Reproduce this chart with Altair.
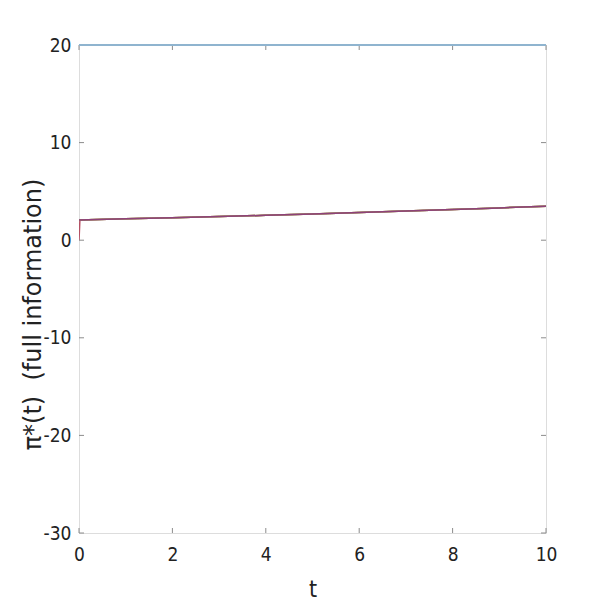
import altair as alt
import pandas as pd

t_vals = [0, 1, 2, 3, 4, 5, 6, 7, 8, 9, 10]
base_vals = [2.08, 2.19, 2.30, 2.42, 2.55, 2.69, 2.84, 2.99, 3.14, 3.31, 3.48]
blue_vals = [20, 20, 20, 20, 20, 20, 20, 20, 20, 20, 20]
red_t = [0, 0.02, 1, 2, 3, 4, 5, 6, 7, 8, 9, 10]
red_vals = [0.0, 2.08, 2.19, 2.30, 2.42, 2.55, 2.69, 2.84, 2.99, 3.14, 3.31, 3.48]
series_names = ["s1", "s2", "s3", "s4", "s5", "s6", "s7"]
series_colors = ["#8fb4cf", "#D95319", "#EDB120", "#7E2F8E", "#77AC30", "#4DBEEE", "#A2142F"]
x_ticks = [0, 2, 4, 6, 8, 10]
y_ticks = [-30, -20, -10, 0, 10, 20]

rows = []
for name in ["s7", "s3", "s5", "s6", "s2", "s4"]:
    tt = red_t if name == "s7" else t_vals
    vv = red_vals if name == "s7" else base_vals
    for t, v in zip(tt, vv):
        rows.append({"t": t, "v": v, "s": name})
df = pd.DataFrame(rows)
df_blue = pd.DataFrame({"t": t_vals, "v": blue_vals, "s": ["s1"] * len(t_vals)})

W, H = 467, 488
FONT = "DejaVu Sans Condensed"
AX = "#8c8c8c"

xs = alt.Scale(domain=[0, 10], nice=False)
ys = alt.Scale(domain=[-30, 20], nice=False)
cs = alt.Scale(domain=series_names, range=series_colors)

lines = alt.Chart(df).mark_line(strokeWidth=1.5, clip=True, opacity=0.7).encode(
    x=alt.X("t:Q", scale=xs, axis=alt.Axis(values=x_ticks, title="t", grid=False,
            ticks=False, domain=False, labelFont=FONT, labelFontSize=19, labelPadding=12,
            labelColor="#222", labelExpr="datum.value + ''", labelFlush=False,
            titleFont=FONT, titleFontSize=23, titleFontWeight="normal",
            titleColor="#222", titlePadding=14)),
    y=alt.Y("v:Q", scale=ys, axis=alt.Axis(values=y_ticks, title="π*(t)\u00a0\u00a0(full information)",
            grid=False, ticks=False, domain=False, labelFont=FONT, labelFontSize=19,
            labelPadding=8, labelColor="#222", labelExpr="datum.value + ''", labelFlush=False,
            titleFont="DejaVu Sans", titleFontSize=24,
            titleFontWeight="normal", titleColor="#222", titleX=-46, titleY=269,
            titleAngle=270, titleAlign="center", titleBaseline="middle")),
    color=alt.Color("s:N", scale=cs, legend=None),
    detail="s:N",
)

blue = alt.Chart(df_blue).mark_line(strokeWidth=2, clip=False).encode(
    x=alt.X("t:Q", scale=xs), y=alt.Y("v:Q", scale=ys),
    color=alt.Color("s:N", scale=cs, legend=None),
)

xt = pd.DataFrame({"t": x_ticks})
yt = pd.DataFrame({"v": y_ticks})
xb = alt.Chart(xt).mark_rule(color=AX, strokeWidth=1).encode(
    x=alt.X("t:Q", scale=xs), y=alt.value(H), y2=alt.value(H - 5))
xtp = alt.Chart(xt).mark_rule(color=AX, strokeWidth=1).encode(
    x=alt.X("t:Q", scale=xs), y=alt.value(0), y2=alt.value(5))
yl = alt.Chart(yt).mark_rule(color=AX, strokeWidth=1).encode(
    y=alt.Y("v:Q", scale=ys), x=alt.value(0), x2=alt.value(5))
yr = alt.Chart(yt).mark_rule(color=AX, strokeWidth=1).encode(
    y=alt.Y("v:Q", scale=ys), x=alt.value(W), x2=alt.value(W - 5))

chart = alt.layer(lines, xb, xtp, yl, yr, blue).properties(
    width=W, height=H,
    autosize=alt.AutoSizeParams(type="none"),
    padding={"left": 71, "top": 37, "right": 51, "bottom": 72},
).configure_view(stroke=AX, strokeWidth=1).configure(background="white")

chart.save("out.html", embed_options={"renderer": "svg", "actions": False})
